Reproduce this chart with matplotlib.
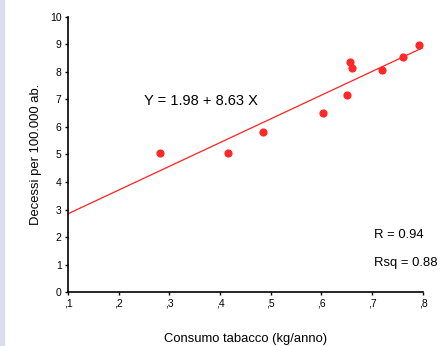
import matplotlib.pyplot as plt
import numpy as np

plt.rcParams['font.family'] = ['Liberation Sans', 'DejaVu Sans']

consumo = [0.281, 0.416, 0.485, 0.603, 0.650, 0.656, 0.660, 0.719, 0.761, 0.792]
decessi = [5.05, 5.05, 5.82, 6.50, 7.16, 8.36, 8.15, 8.07, 8.55, 8.98]
intercetta = 1.98
pendenza = 8.63
xticks = [0.1, 0.2, 0.3, 0.4, 0.5, 0.6, 0.7, 0.8]
xticklabels = [',1', ',2', ',3', ',4', ',5', ',6', ',7', ',8']

fig = plt.figure(figsize=(4.41, 3.46), dpi=100)
fig.patches.append(plt.Rectangle((0, 0), 0.009, 1, transform=fig.transFigure,
                                 color='#dcdcee', zorder=0))
ax = fig.add_axes([0.154, 0.156, 0.805, 0.795])

xl = np.array([0.1, 0.8])
ax.plot(xl, intercetta + pendenza * xl, color='#ff2020', lw=0.9)
ax.scatter(consumo, decessi, s=24, color='#ff2828', zorder=3)

ax.set_xlim(0.1, 0.8)
ax.set_ylim(0, 10)
ax.set_xticks(xticks)
ax.set_xticklabels(xticklabels)
ax.set_yticks(range(0, 11))
ax.tick_params(labelsize=7.5, length=2.5, width=1, direction='out', pad=2)
for s in ['top', 'right']:
    ax.spines[s].set_visible(False)
for s in ['left', 'bottom']:
    ax.spines[s].set_linewidth(1.2)

ax.set_xlabel('Consumo tabacco (kg/anno)', fontsize=9.4, labelpad=18)
ax.set_ylabel('Decessi per 100.000 ab.', fontsize=9.4, labelpad=6)

ax.text(0.25, 6.95, 'Y = 1.98 + 8.63 X', fontsize=10.5, va='center')
ax.text(0.704, 2.07, 'R = 0.94', fontsize=9.4, va='center')
ax.text(0.704, 1.05, 'Rsq = 0.88', fontsize=9.4, va='center')

fig.savefig('out.png', dpi=100)
